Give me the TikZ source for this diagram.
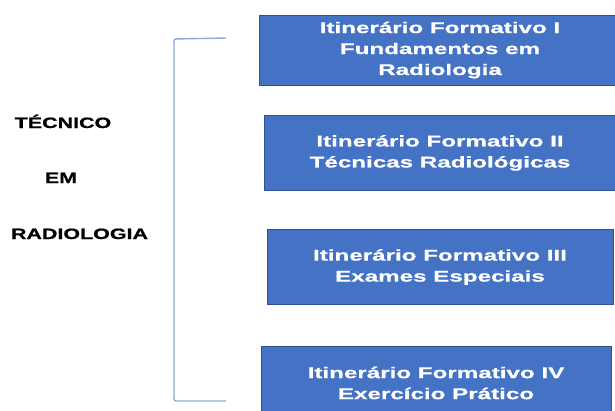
\documentclass[tikz,border=0pt]{standalone}
\usepackage{fontspec}
\newfontfamily\boxfont{Liberation Sans}[FakeStretch=1.56, BoldFeatures={FakeBold=0.7}]
\newfontfamily\leftfont{Liberation Sans}[FakeStretch=1.43, BoldFeatures={FakeBold=0.8}]
\definecolor{boxfill}{HTML}{4472C4}
\definecolor{boxline}{HTML}{2F528F}
\definecolor{brace}{HTML}{8EA9DB}
\begin{document}
\begin{tikzpicture}[x=1pt,y=-1pt,
  itbox/.style={draw=boxline, line width=0.9pt, fill=boxfill, text=white,
    align=center, inner sep=0pt,
    font=\boxfont\bfseries\fontsize{15.5}{21}\selectfont},
  lefttext/.style={anchor=base, inner sep=0pt,
    font=\leftfont\bfseries\fontsize{15}{18}\selectfont},
  bracketline/.style={draw=brace, line width=1.4pt, rounded corners=2pt}]
\useasboundingbox (0,0) rectangle (615,410);
\clip (0,0) rectangle (615,410);
\node[itbox, minimum width=362pt, minimum height=70pt] (b1) at (440,50)
  {Itinerário Formativo I\\Fundamentos em\\Radiologia};
\node[itbox, minimum width=352pt, minimum height=74.3pt] (b2) at (440,152.9)
  {Itinerário Formativo II\\Técnicas Radiológicas};
\node[itbox, minimum width=346pt, minimum height=74.6pt] (b3) at (440,267)
  {Itinerário Formativo III\\Exames Especiais};
\node[itbox, minimum width=350pt, minimum height=74pt] (b4) at (436,383)
  {Itinerário Formativo IV\\Exercício Prático};
\node[lefttext] (t1) at (63,128) {TÉCNICO};
\node[lefttext] (t2) at (61,183) {EM};
\node[lefttext] (t3) at (79.5,239) {RADIOLOGIA};
\coordinate (bt) at (226,38);
\coordinate (bb) at (226,401);
\coordinate (bt2) at (174,39);
\coordinate (bb2) at (174,401);
\draw[bracketline] (bt) -- (bt2) -- (bb2) -- (bb);
\end{tikzpicture}
\end{document}
